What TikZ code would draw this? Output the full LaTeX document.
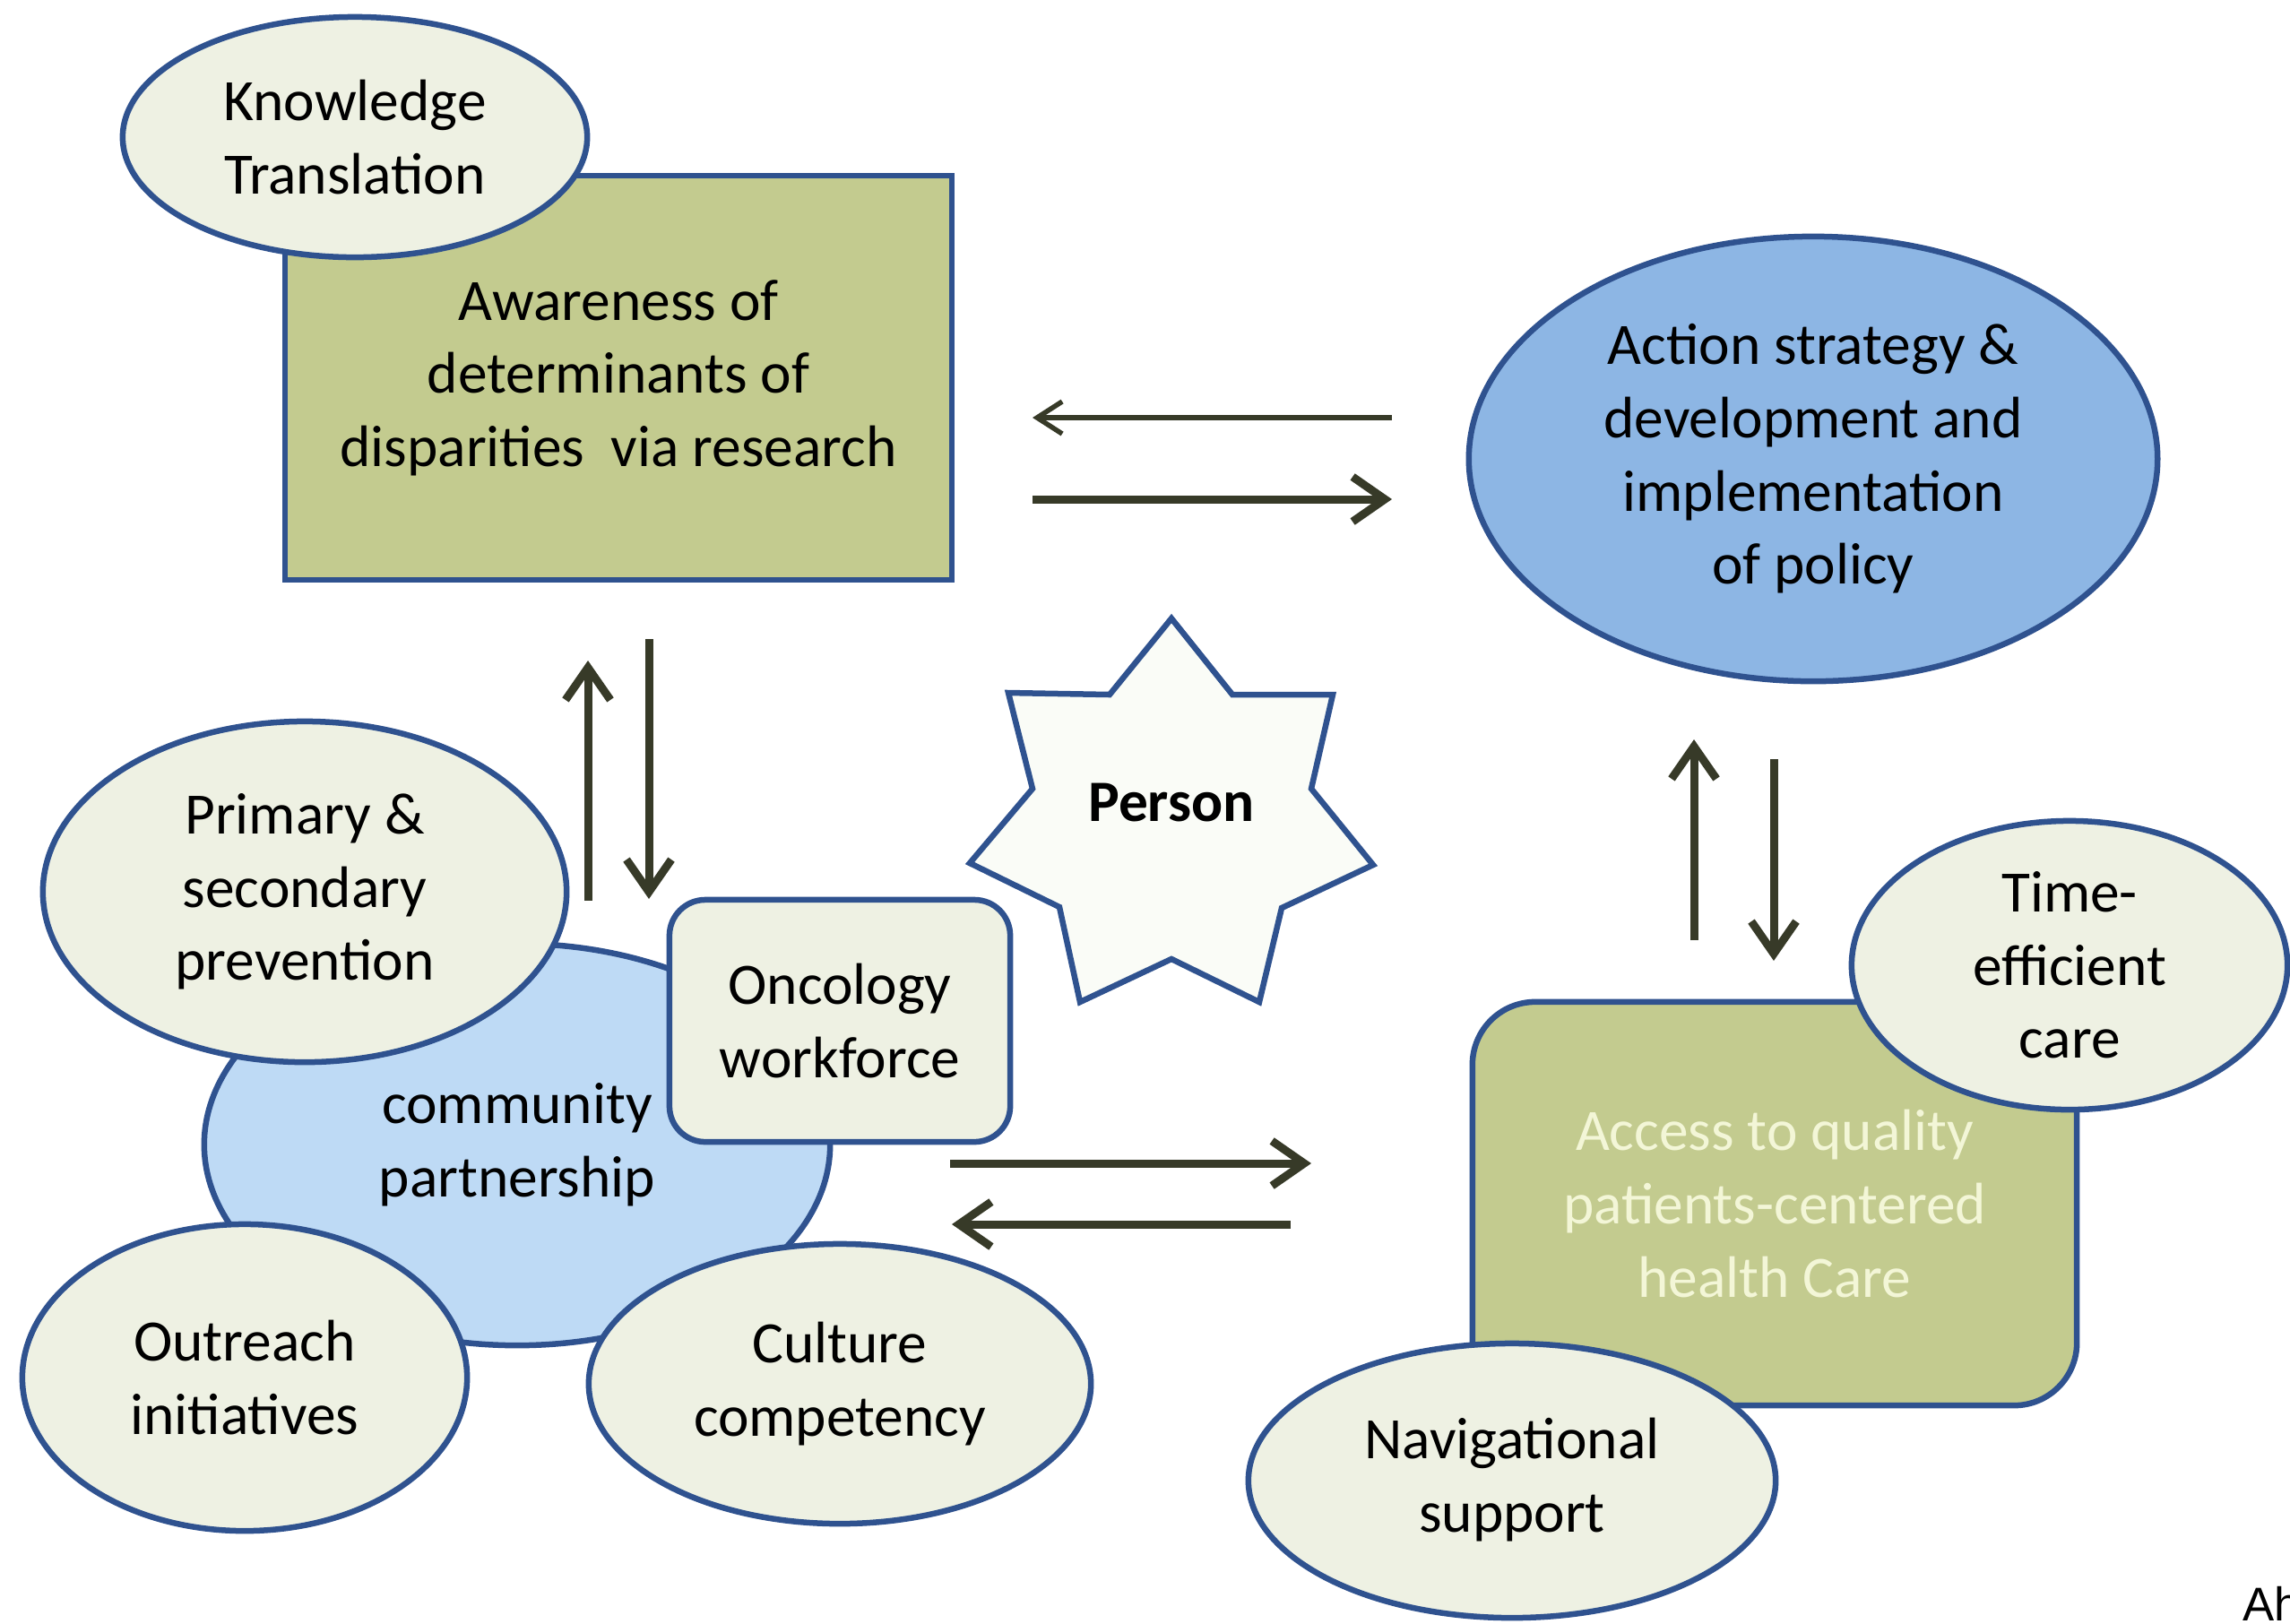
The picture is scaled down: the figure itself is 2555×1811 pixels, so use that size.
\documentclass[tikz,border=0pt]{standalone}
\usepackage{fontspec}
\setmainfont{Carlito}
\newfontfamily\ahfont{Liberation Sans}
\usetikzlibrary{shapes.geometric,arrows.meta}
\definecolor{cOlive}{RGB}{195,203,143}
\definecolor{cLight}{RGB}{238,241,227}
\definecolor{cBlue}{RGB}{141,182,228}
\definecolor{cPale}{RGB}{190,218,245}
\definecolor{cBorder}{RGB}{47,82,143}
\definecolor{cArrow}{RGB}{55,58,40}
\definecolor{cCream}{RGB}{243,246,215}
\definecolor{cStar}{RGB}{250,252,247}
\begin{document}
\begin{tikzpicture}[x=0.01cm,y=-0.01cm,
  base/.style={draw=cBorder, line width=0.065cm, align=center, inner sep=0pt,
    font=\fontsize{18.6}{23.2}\selectfont},
  ell/.style={base, ellipse, fill=cLight},
  boxr/.style={base, rectangle},
  arr/.style={draw=cArrow, line width=0.09cm,
    -{Straight Barb[length=0.36cm,width=0.5cm]}},
  thinarr/.style={draw=cArrow, line width=0.055cm,
    -{Straight Barb[length=0.28cm,width=0.36cm]}}
]
\useasboundingbox (0,0) rectangle (2555,1811);

% top-left group
\node[boxr, fill=cOlive, minimum width=7.44cm, minimum height=4.51cm] (aw) at (690,421.5)
  {Awareness of\\determinants of\\disparities~ via research};
\node[ell, minimum width=5.18cm, minimum height=2.68cm] (kt) at (396,153)
  {Knowledge\\Translation};

% top-right
\node[base, ellipse, fill=cBlue, minimum width=7.68cm, minimum height=4.96cm] (act) at (2023,512)
  {Action strategy \&\\development and\\implementation\\of policy};

% bottom-left group
\node[base, ellipse, fill=cPale, minimum width=6.98cm, minimum height=4.48cm] (cp) at (577,1277)
  {community\\partnership};
\node[ell, minimum width=5.84cm, minimum height=3.80cm] (pp) at (340,995)
  {Primary \&\\secondary\\prevention};
\node[boxr, fill=cLight, rounded corners=0.4cm, minimum width=3.80cm, minimum height=2.70cm] (ow) at (937,1139)
  {Oncology\\workforce};
\node[ell, minimum width=4.96cm, minimum height=3.42cm] (oi) at (273,1537)
  {Outreach\\initiatives};
\node[ell, minimum width=5.60cm, minimum height=3.12cm] (cc) at (937,1544)
  {Culture\\competency};

% bottom-right group
\node[boxr, fill=cOlive, rounded corners=0.7cm, minimum width=6.74cm, minimum height=4.50cm,
  text=cCream] (acc) at (1980,1343)
  {Access to quality\\patients-centered\\health Care};
\node[ell, minimum width=4.86cm, minimum height=3.22cm] (te) at (2309,1077)
  {Time-\\efficient\\care};
\node[ell, minimum width=5.88cm, minimum height=3.06cm] (ns) at (1687,1652)
  {\raisebox{-0.24cm}{\begin{tabular}{@{}c@{}}Navigational\\support\end{tabular}}};

% star
\draw[draw=cBorder, line width=0.065cm, fill=cStar, line join=miter]
  (1307,690) -- (1375,775) -- (1487,775) -- (1463,880) -- (1532,965) -- (1430,1013)
  -- (1405,1118) -- (1307,1070) -- (1205,1118) -- (1182,1012) -- (1082,963)
  -- (1152,880) -- (1125,773) -- (1238,775) -- cycle;
\node[font=\fontsize{18.6}{23.2}\selectfont\bfseries] (person) at (1307,896) {Person};

% arrow end points
\coordinate (t1s) at (1553,466); \coordinate (t1e) at (1152,466);
\coordinate (t2s) at (1152,557); \coordinate (t2e) at (1553,557);
\coordinate (l1s) at (656,1005); \coordinate (l1e) at (656,737);
\coordinate (l2s) at (724,713);  \coordinate (l2e) at (724,1003);
\coordinate (r1s) at (1890,1049); \coordinate (r1e) at (1890,825);
\coordinate (r2s) at (1979,847);  \coordinate (r2e) at (1979,1072);
\coordinate (b1s) at (1060,1298); \coordinate (b1e) at (1463,1298);
\coordinate (b2s) at (1440,1366); \coordinate (b2e) at (1062,1366);

\draw[thinarr] (t1s) -- (t1e);
\draw[arr] (t2s) -- (t2e);
\draw[arr] (l1s) -- (l1e);
\draw[arr] (l2s) -- (l2e);
\draw[arr] (r1s) -- (r1e);
\draw[arr] (r2s) -- (r2e);
\draw[arr] (b1s) -- (b1e);
\draw[arr] (b2s) -- (b2e);

\node[anchor=base west, inner sep=0pt, font=\ahfont\fontsize{15}{18}\selectfont] (ah) at (2502,1808) {Ah};
\end{tikzpicture}
\end{document}
